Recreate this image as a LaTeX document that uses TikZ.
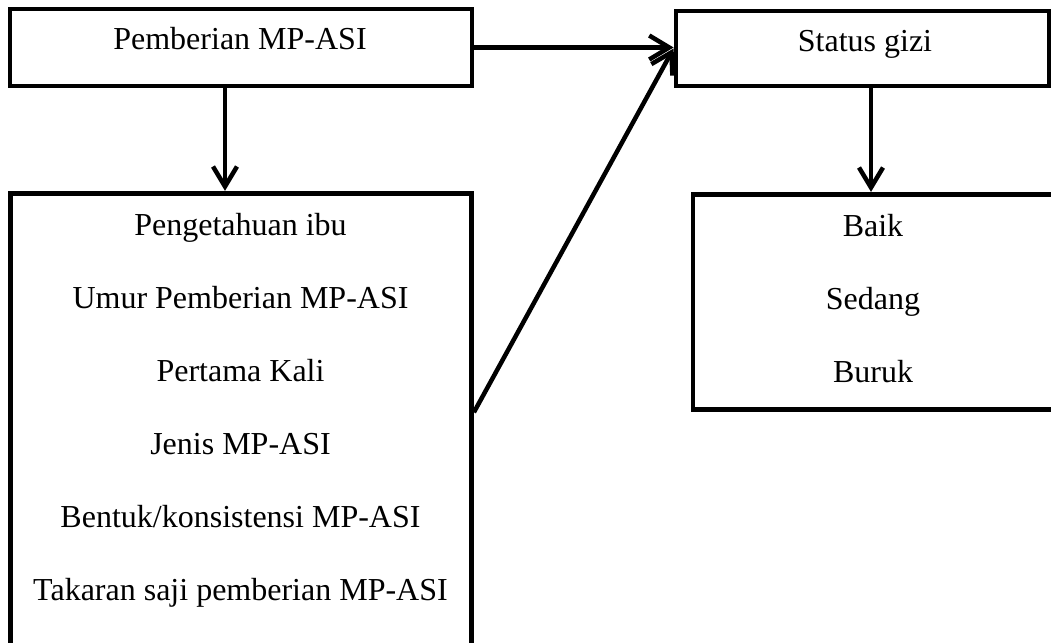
\documentclass[tikz,border=0pt]{standalone}
\usepackage{fontspec}
\setmainfont{Liberation Serif}
\usetikzlibrary{arrows.meta,positioning}
\tikzset{
    >={Straight Barb[length=20pt,width=24pt]},
    kotak/.style={
           rectangle,
           draw=black, line width=4.8pt,
           inner sep=0pt},
    teks/.style={
           font=\fontsize{32}{73}\selectfont,
           inner sep=0pt,
           align=center},
    panah/.style={
           ->,
           line width=4.5pt}
}

\begin{document}
\begin{tikzpicture}[x=1pt, y=-1pt]
        \useasboundingbox (0,0) rectangle (1051,642);
        \node[kotak, minimum width=462pt, minimum height=77pt] (pemberian) at (241,47.5) {};
        \node[kotak, minimum width=373pt, minimum height=75pt] (status) at (862.5,48.5) {};
        \node[kotak, minimum width=461pt, minimum height=467pt, below=102.5pt of pemberian] (pengetahuan) {};
        \node[kotak, minimum width=367pt, minimum height=215pt, below=103.5pt of status, shift={(14,0)}] (hasil) {};

        \node[teks, anchor=base] (tpemberian) at (240,49.3) {Pemberian MP-ASI};
        \node[teks, anchor=base] (tstatus) at (865,51.7) {Status gizi};
        \node[teks, anchor=north] (tpengetahuan) at (240.5,213.3) {Pengetahuan ibu\\Umur Pemberian MP-ASI\\Pertama Kali\\Jenis MP-ASI\\Bentuk/konsistensi MP-ASI\\Takaran saji pemberian MP-ASI};
        \node[teks, anchor=north] (thasil) at (873,214.3) {Baik\\Sedang\\Buruk};

        \draw[panah] (pemberian.east) -- (status.west |- pemberian.east);
        \draw[panah] ([xshift=-16pt]pemberian.south) coordinate (a1) -- (a1 |- pengetahuan.north);
        \draw[panah] ([xshift=8.5pt]status.south) coordinate (a2) -- (a2 |- hasil.north);
        \draw[panah] ([yshift=14.5pt]pengetahuan.east) -- (status.west);
    \end{tikzpicture}
\end{document}
